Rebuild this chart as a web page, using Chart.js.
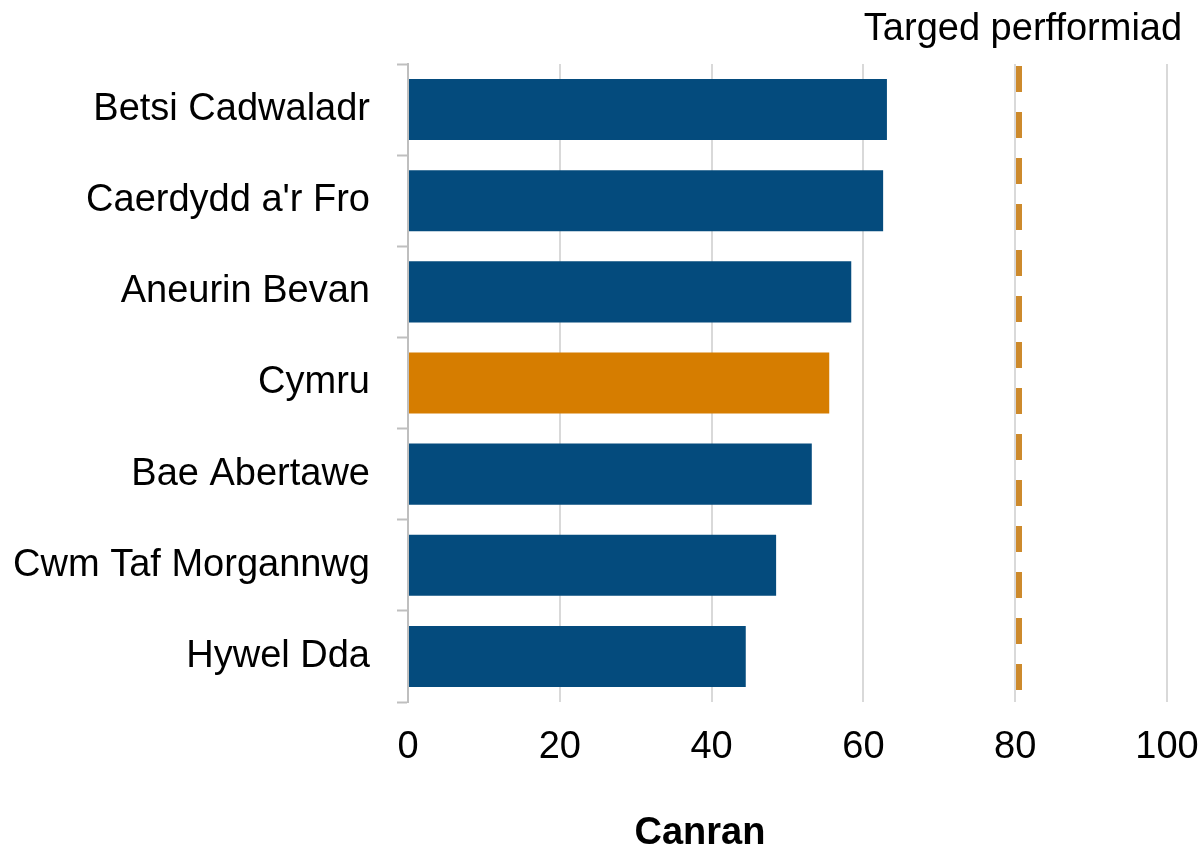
<!DOCTYPE html>
<html>
<head>
<meta charset="utf-8">
<script src="https://cdn.jsdelivr.net/npm/chart.js@4.4.1/dist/chart.umd.min.js"></script>
<style>
  html, body { margin: 0; padding: 0; background: #fff; }
  #wrap { width: 1202px; height: 845px; }
</style>
</head>
<body>
<div id="wrap"><canvas id="grafico" width="1202" height="845"></canvas></div>
<script>
// data
const byrddau = ['Betsi Cadwaladr', "Caerdydd a'r Fro", 'Aneurin Bevan', 'Cymru', 'Bae Abertawe', 'Cwm Taf Morgannwg', 'Hywel Dda'];
const canran = [63.1, 62.6, 58.4, 55.5, 53.2, 48.5, 44.5];
const targed = 80.5;
const ticksX = [0, 20, 40, 60, 80, 100];

const glas = '#044b7d';
const oren = '#d67d00';
const lliwiau = byrddau.map(b => b === 'Cymru' ? oren : glas);

const FONT = "'Liberation Sans', Arial, sans-serif";

// dashed target line plus its label, and the axis title
const targedPlugin = {
    id: 'targed',
    afterDatasetsDraw(chart) {
        const { ctx, chartArea, scales } = chart;
        const x = scales.x.getPixelForValue(targed);
        ctx.save();
        ctx.strokeStyle = '#cd8a2c';
        ctx.lineWidth = 6;
        ctx.setLineDash([26, 20]);
        ctx.beginPath();
        ctx.moveTo(x, chartArea.top + 2);
        ctx.lineTo(x, chartArea.bottom);
        ctx.stroke();
        ctx.setLineDash([]);

        ctx.fillStyle = '#000';
        ctx.font = '38px ' + FONT;
        ctx.textAlign = 'center';
        ctx.textBaseline = 'alphabetic';
        ctx.fillText('Targed perfformiad', x + 4, 40);

        ctx.font = 'bold 38px ' + FONT;
        ctx.fillText('Canran', 700, 844);
        ctx.restore();
    }
};

const ctx = document.getElementById('grafico').getContext('2d');

new Chart(ctx, {
    type: 'bar',
    data: {
        labels: byrddau,
        datasets: [{
            data: canran,
            backgroundColor: lliwiau,
            borderWidth: 0,
            categoryPercentage: 1,
            barPercentage: 0.67
        }]
    },
    options: {
        indexAxis: 'y',
        responsive: false,
        animation: false,
        layout: { padding: { top: 64, right: 35, left: 0, bottom: 0 } },
        plugins: {
            legend: { display: false },
            tooltip: { enabled: false }
        },
        scales: {
            x: {
                min: 0,
                max: 100,
                afterBuildTicks: s => { s.ticks = ticksX.map(v => ({ value: v })); },
                afterFit: s => { s.height = 143; s.paddingLeft = 0; s.paddingRight = 0; },
                border: { display: false },
                grid: { color: '#d9d9d9', lineWidth: 2, drawTicks: false },
                ticks: { color: '#000', padding: 23, font: { size: 38, family: FONT } }
            },
            y: {
                afterFit: s => { s.width = 408; s.paddingTop = 0; s.paddingBottom = 0; },
                border: { display: true, color: '#bfbfbf', width: 2 },
                grid: {
                    offset: true,
                    drawOnChartArea: false,
                    drawTicks: true,
                    tickLength: 11,
                    tickColor: '#bfbfbf',
                    tickWidth: 2
                },
                ticks: { color: '#000', padding: 27, font: { size: 38, family: FONT } }
            }
        }
    },
    plugins: [targedPlugin]
});
</script>
</body>
</html>
